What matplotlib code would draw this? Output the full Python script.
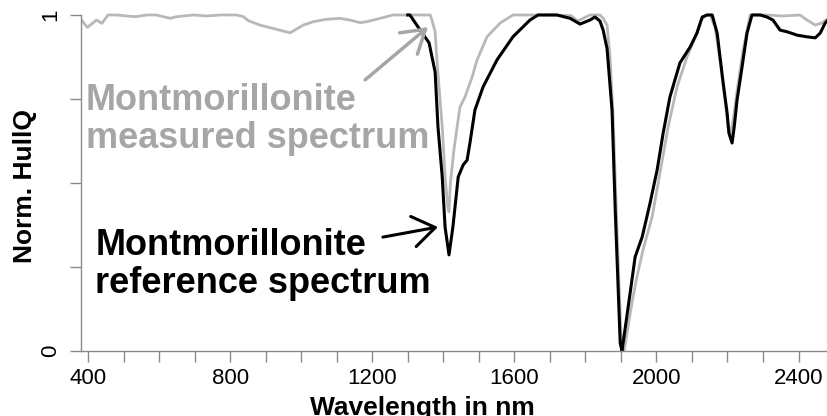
import matplotlib
matplotlib.use("Agg")
import matplotlib.pyplot as plt
from matplotlib.ticker import MultipleLocator, FixedLocator

plt.rcParams["font.family"] = ["Liberation Sans", "DejaVu Sans"]

# measured spectrum (grey)
wl_meas = [383, 398, 424, 439, 456, 481, 509, 535, 565, 593,
           631, 650, 697, 734, 772, 819, 837, 851, 884, 931,
           969, 1006, 1034, 1070, 1109, 1137, 1166, 1184, 1222, 1259,
           1300, 1340, 1363, 1368, 1377, 1382, 1397, 1405, 1413, 1416,
           1420, 1430, 1439, 1447, 1461, 1481, 1495, 1523, 1560, 1596,
           1650, 1700, 1760, 1778, 1813, 1841, 1850, 1861, 1869, 1878,
           1887, 1900, 1909, 1931, 1945, 1962, 1988, 2010, 2033, 2058,
           2086, 2114, 2126, 2140, 2151, 2165, 2179, 2193, 2202, 2207,
           2216, 2230, 2244, 2264, 2311, 2356, 2404, 2424, 2447, 2466,
           2483]
hq_meas = [0.983, 0.963, 0.985, 0.975, 1.0, 1.0, 0.997, 0.995, 1.0, 1.0,
           0.99, 0.995, 1.0, 0.997, 1.0, 1.0, 0.995, 0.983, 0.97, 0.957,
           0.947, 0.97, 0.98, 0.987, 0.99, 0.985, 0.977, 0.98, 0.99, 1.0,
           1.0, 1.0, 1.0, 0.985, 0.95, 0.866, 0.667, 0.518, 0.425, 0.414,
           0.5, 0.6, 0.667, 0.726, 0.756, 0.815, 0.866, 0.935, 0.976, 1.0,
           1.0, 1.0, 0.998, 0.982, 1.0, 1.0, 0.99, 0.97, 0.88, 0.7,
           0.42, 0.05, 0.0, 0.143, 0.22, 0.30, 0.40, 0.53, 0.667, 0.786,
           0.875, 0.946, 0.985, 1.0, 1.0, 0.964, 0.866, 0.747, 0.667, 0.637,
           0.688, 0.797, 0.896, 1.0, 1.0, 0.997, 1.0, 0.985, 0.97, 0.976,
           0.99]

# reference spectrum (black)
wl_ref = [1300, 1306, 1335, 1360, 1377, 1385, 1397, 1405, 1416, 1427,
          1442, 1456, 1467, 1475, 1489, 1512, 1551, 1596, 1644, 1667,
          1720, 1757, 1785, 1813, 1827, 1841, 1850, 1861, 1875, 1884,
          1898, 1903, 1926, 1940, 1960, 1982, 2002, 2019, 2038, 2066,
          2095, 2114, 2129, 2143, 2157, 2171, 2179, 2188, 2199, 2204,
          2213, 2219, 2227, 2241, 2255, 2269, 2292, 2311, 2328, 2348,
          2368, 2396, 2424, 2447, 2461, 2475, 2483]
hq_ref = [1.0, 1.0, 0.955, 0.917, 0.83, 0.667, 0.518, 0.369, 0.286, 0.369,
          0.518, 0.554, 0.568, 0.619, 0.717, 0.786, 0.866, 0.935, 0.985, 1.0,
          1.0, 0.99, 0.973, 0.985, 0.994, 0.982, 0.955, 0.90, 0.717, 0.42,
          0.024, 0.0, 0.173, 0.28, 0.34, 0.44, 0.539, 0.649, 0.756, 0.857,
          0.905, 0.946, 0.994, 1.0, 1.0, 0.946, 0.875, 0.797, 0.708, 0.649,
          0.619, 0.667, 0.747, 0.845, 0.946, 1.0, 1.0, 0.994, 0.985, 0.955,
          0.95, 0.94, 0.935, 0.932, 0.946, 0.976, 0.985]

x_labels = [400, 800, 1200, 1600, 2000, 2400]
y_labels = [0, 1]

GREY_LINE = "#b8b8b8"
GREY_TEXT = "#a6a6a6"
AXIS_COL = "#8a8a8a"

fig = plt.figure(figsize=(8.28, 4.16), dpi=100)
ax = fig.add_axes([0.0978, 0.15625, 0.9022, 0.84375])

ax.plot(wl_meas, hq_meas, color=GREY_LINE, lw=2.0, solid_joinstyle="round")
ax.plot(wl_ref, hq_ref, color="black", lw=2.2, solid_joinstyle="round")

ax.set_xlim(380, 2483)
ax.set_ylim(0, 1.0446)

for s in ("top", "right"):
    ax.spines[s].set_visible(False)
for s in ("left", "bottom"):
    ax.spines[s].set_color(AXIS_COL)
    ax.spines[s].set_linewidth(1.0)
ax.spines["left"].set_bounds(0, 1)

ax.xaxis.set_major_locator(FixedLocator(x_labels))
ax.xaxis.set_minor_locator(MultipleLocator(100))
ax.yaxis.set_major_locator(FixedLocator(y_labels))
ax.yaxis.set_minor_locator(MultipleLocator(0.25))
ax.set_xticklabels([str(v) for v in x_labels])
ax.set_yticklabels([str(v) for v in y_labels])
ax.tick_params(which="both", length=8, width=1.0, color=AXIS_COL)
ax.tick_params(axis="x", labelsize=16, pad=4)
ax.tick_params(axis="y", labelsize=16, pad=6, labelrotation=90)
for lab in ax.get_yticklabels():
    lab.set_verticalalignment("center")

ax.set_xlabel("Wavelength in nm", fontsize=19, fontweight="bold")
ax.xaxis.set_label_coords(0.457, -0.128)
ax.set_ylabel("Norm. HullQ", fontsize=19, fontweight="bold")
ax.yaxis.set_label_coords(-0.059, 0.469)

# va="baseline" on multi-line text anchors the last line
ax.text(394, 0.604, "Montmorillonite\nmeasured spectrum", ha="left",
        va="baseline", fontsize=26, fontweight="bold", color=GREY_TEXT,
        linespacing=1.12)
ax.text(420, 0.173, "Montmorillonite\nreference spectrum", ha="left",
        va="baseline", fontsize=26, fontweight="bold", color="black",
        linespacing=1.12)

ax.annotate("", xy=(1357, 0.964), xytext=(1180, 0.807),
            arrowprops=dict(arrowstyle="->,head_length=0.8,head_width=0.5",
                            color=GREY_TEXT, lw=2.5, mutation_scale=20,
                            shrinkA=0, shrinkB=0))
ax.annotate("", xy=(1385, 0.369), xytext=(1230, 0.339),
            arrowprops=dict(arrowstyle="->,head_length=0.8,head_width=0.55",
                            color="black", lw=2.2, mutation_scale=20,
                            shrinkA=0, shrinkB=0))

fig.savefig("out.png", dpi=100)
